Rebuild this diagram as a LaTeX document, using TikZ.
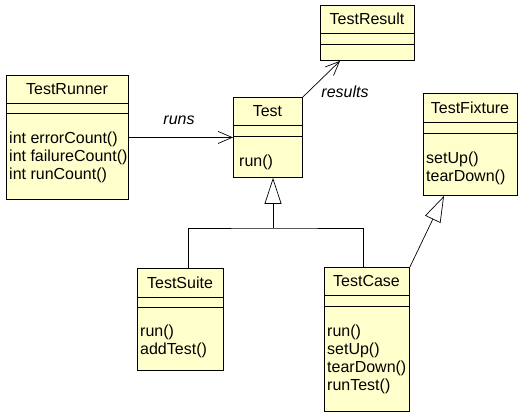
\documentclass[tikz,border=0pt]{standalone}
\usepackage{fontspec}
\setmainfont{Liberation Sans}
\usetikzlibrary{arrows.meta,calc}
\definecolor{classfill}{RGB}{255,255,204}
\begin{document}
\begin{tikzpicture}[x=1pt,y=-1pt]
\tikzstyle{cls} = [draw=black,fill=classfill,line width=0.9pt,inner sep=0pt,anchor=north west]
\tikzstyle{title} = [font=\fontsize{16}{18}\selectfont,inner sep=0pt]
\tikzstyle{ops} = [font=\fontsize{16}{18}\selectfont,inner sep=0pt,align=left,anchor=north west]
\tikzstyle{role} = [font=\fontsize{16}{18}\selectfont\itshape,inner sep=0pt]
\tikzstyle{assoc} = [line width=0.7pt,-{Straight Barb[length=14pt,width=12pt]}]
\tikzstyle{inh} = [line width=0.7pt,-{Triangle[open,length=26pt,width=17pt]}]
\useasboundingbox (0,0) rectangle (521,412);
% classes
\node[cls,minimum width=122pt,minimum height=124pt] (runner) at (6,75) {};
\node[cls,minimum width=69pt,minimum height=80pt] (test) at (233,97) {};
\node[cls,minimum width=94pt,minimum height=55pt] (result) at (320,5) {};
\node[cls,minimum width=94pt,minimum height=102pt] (fixture) at (423,93) {};
\node[cls,minimum width=86pt,minimum height=102pt] (suite) at (137,268) {};
\node[cls,minimum width=85pt,minimum height=144pt] (tcase) at (324,267) {};
% compartments
\draw[line width=0.9pt] (runner.west |- 0,103) -- (runner.east |- 0,103) (runner.west |- 0,113) -- (runner.east |- 0,113);
\draw[line width=0.9pt] (test.west |- 0,125) -- (test.east |- 0,125) (test.west |- 0,136) -- (test.east |- 0,136);
\draw[line width=0.9pt] (result.west |- 0,33) -- (result.east |- 0,33) (result.west |- 0,44) -- (result.east |- 0,44);
\draw[line width=0.9pt] (fixture.west |- 0,122) -- (fixture.east |- 0,122) (fixture.west |- 0,133) -- (fixture.east |- 0,133);
\draw[line width=0.9pt] (suite.west |- 0,297) -- (suite.east |- 0,297) (suite.west |- 0,307) -- (suite.east |- 0,307);
\draw[line width=0.9pt] (tcase.west |- 0,295) -- (tcase.east |- 0,295) (tcase.west |- 0,306) -- (tcase.east |- 0,306);
% names and operations
\node[title] (runnername) at (67,89) {TestRunner};
\node[ops] (runnerops) at (9,132) {int errorCount()\\int failureCount()\\int runCount()};
\node[title] (testname) at (267.5,111) {Test};
\node[ops] (testops) at (239,155) {run()};
\node[title] (resultname) at (367,19) {TestResult};
\node[title] (fixturename) at (470,107.5) {TestFixture};
\node[ops] (fixtureops) at (426,152) {setUp()\\tearDown()};
\node[title] (suitename) at (180,282.5) {TestSuite};
\node[ops] (suiteops) at (140,325) {run()\\addTest()};
\node[title] (tcasename) at (366.5,281) {TestCase};
\node[ops] (tcaseops) at (327,325) {run()\\setUp()\\tearDown()\\runTest()};
% associations
\draw[assoc] (runner) -- (test);
\node[role] (runslbl) at (179,120) {runs};
\draw[assoc] (test.north east) -- ($(result.south west)+(20,0)$);
\node[role] (resultslbl) at (345,92) {results};
% generalisations
\coordinate (split) at (273,228);
\draw[inh] (split) -- (split |- test.south);
\draw[line width=0.7pt] (suite.north -| 188,0) |- (split) -| (tcase.north -| 363,0);
\draw[inh] (tcase.north east) -- ($(fixture.south west)+(21,0)$);
\end{tikzpicture}
\end{document}
